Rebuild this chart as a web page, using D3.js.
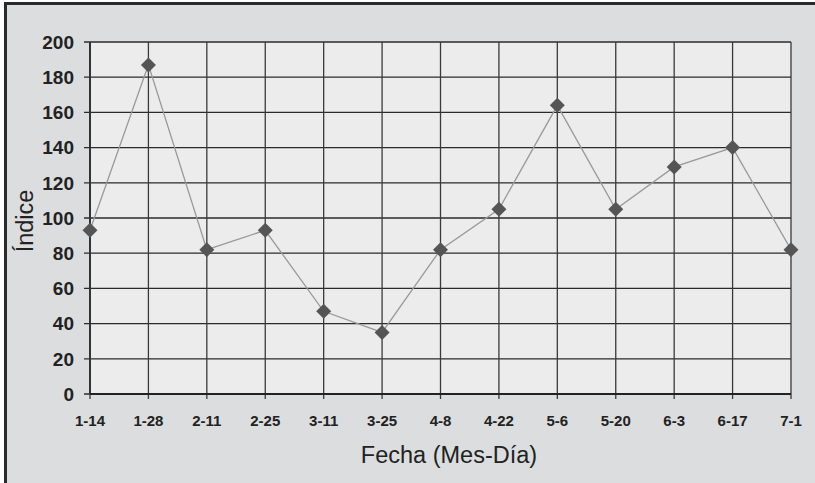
<!DOCTYPE html>
<html><head><meta charset="utf-8">
<script src="https://cdn.jsdelivr.net/npm/d3@7"></script>
<style>body{margin:0;background:#fff}svg{display:block}</style>
</head><body>
<svg id="c" width="815" height="483"></svg>
<script>
const categories = ["1-14","1-28","2-11","2-25","3-11","3-25","4-8","4-22","5-6","5-20","6-3","6-17","7-1"];
const values = [93,187,82,93,47,35,82,105,164,105,129,140,82];
const yTicks = [0,20,40,60,80,100,120,140,160,180,200];

const svg = d3.select("#c");
const W = 815, H = 483;
const m = {l:90, t:42, r:791, b:394};
const font = "Liberation Sans, Arial, sans-serif";

svg.append("rect").attr("x",5).attr("y",3).attr("width",W-5).attr("height",H-3).attr("fill","#dcdddf");
svg.append("line").attr("x1",5.5).attr("x2",5.5).attr("y1",2).attr("y2",H).attr("stroke","#2a2a2a").attr("stroke-width",3);
svg.append("line").attr("x1",4).attr("x2",W).attr("y1",3.5).attr("y2",3.5).attr("stroke","#2a2a2a").attr("stroke-width",3);

const x = d3.scalePoint().domain(categories).range([m.l, m.r]).padding(0);
const y = d3.scaleLinear().domain([0,200]).range([m.b, m.t]);

svg.append("rect").attr("x",m.l).attr("y",m.t).attr("width",m.r-m.l).attr("height",m.b-m.t).attr("fill","#ececec");

// grid
const g = svg.append("g");
g.selectAll(".hg").data(yTicks).join("line")
  .attr("x1",m.l-6).attr("x2",m.r).attr("y1",d=>y(d)).attr("y2",d=>y(d))
  .attr("stroke","#2b2b2b").attr("stroke-width",1.3);
g.selectAll(".vg").data(categories).join("line")
  .attr("x1",d=>x(d)).attr("x2",d=>x(d)).attr("y1",m.t).attr("y2",m.b+5)
  .attr("stroke","#3a3a3a").attr("stroke-width",1.3);

// axes lines
svg.append("line").attr("x1",m.l).attr("x2",m.l).attr("y1",m.t).attr("y2",m.b).attr("stroke","#333").attr("stroke-width",2);
svg.append("line").attr("x1",m.l).attr("x2",m.r).attr("y1",m.b).attr("y2",m.b).attr("stroke","#222").attr("stroke-width",2);

// y labels
svg.selectAll(".yl").data(yTicks).join("text")
  .attr("x",74).attr("y",d=>y(d)).attr("dy","0.36em").attr("text-anchor","end")
  .attr("font-family",font).attr("font-weight","bold").attr("font-size",19).attr("fill","#222")
  .text(d=>d);
// x labels
svg.selectAll(".xl").data(categories).join("text")
  .attr("x",d=>x(d)).attr("y",426).attr("text-anchor","middle")
  .attr("font-family",font).attr("font-weight","bold").attr("font-size",15).attr("fill","#222")
  .text(d=>d);

// titles
svg.append("text").attr("x",449).attr("y",463).attr("text-anchor","middle")
  .attr("font-family",font).attr("font-size",23.5).attr("fill","#222").text("Fecha (Mes-Día)");
svg.append("text").attr("transform","translate(33,221) rotate(-90)").attr("text-anchor","middle")
  .attr("font-family",font).attr("font-size",23.5).attr("fill","#222").text("Índice");

// line
const line = d3.line().x((d,i)=>x(categories[i])).y(d=>y(d));
svg.append("path").datum(values).attr("d",line).attr("fill","none").attr("stroke","#999").attr("stroke-width",1.3);

// markers
svg.selectAll(".mk").data(values).join("path")
  .attr("transform",(d,i)=>`translate(${x(categories[i])},${y(d)})`)
  .attr("d","M0,-7.5L7.5,0L0,7.5L-7.5,0Z").attr("fill","#555");
</script>
</body></html>
